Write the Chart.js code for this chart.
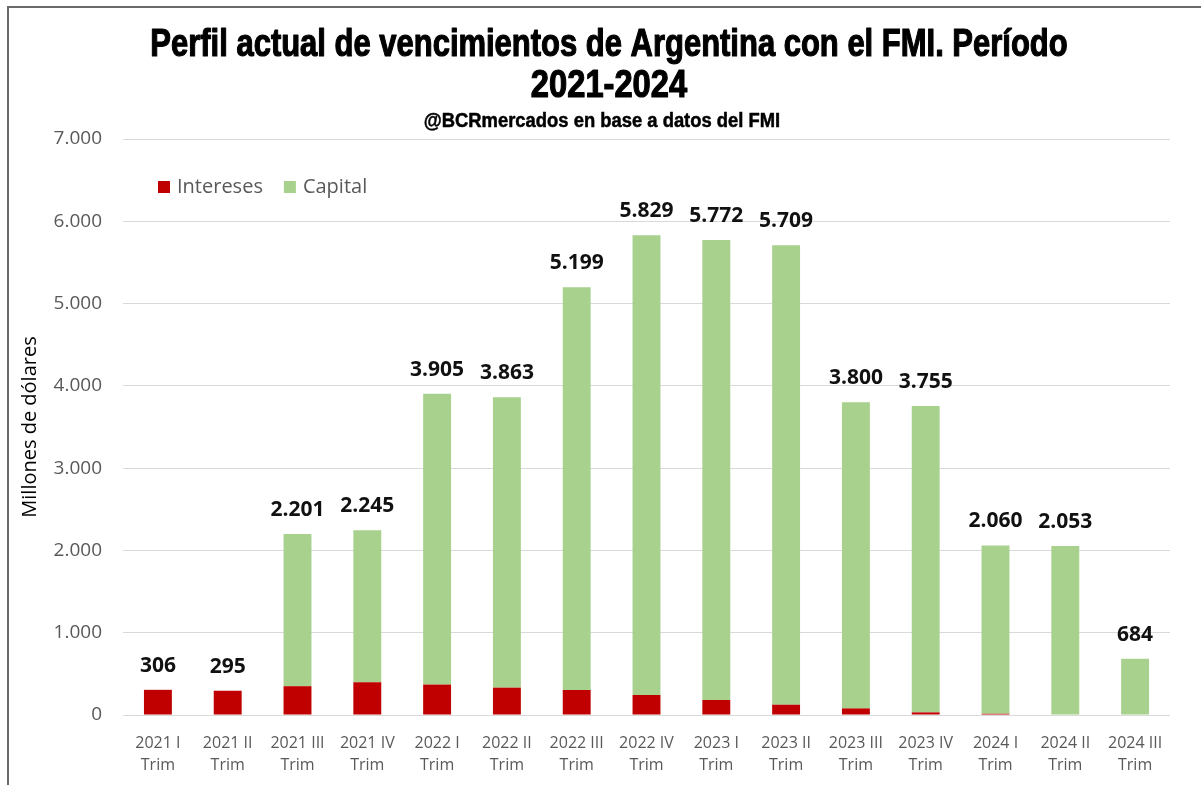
<!DOCTYPE html>
<html>
<head>
<meta charset="utf-8">
<script src="https://cdn.jsdelivr.net/npm/chart.js@4.4.0/dist/chart.umd.min.js"></script>
<style>
  html, body { margin: 0; padding: 0; background: #ffffff; }
  #wrap { position: relative; width: 1201px; height: 785px; overflow: hidden; }
  #frame { position: absolute; left: 7px; top: 6px; width: 1300px; height: 900px;
           border-left: 2px solid #6a6a6a; border-top: 2px solid #6a6a6a; }
  canvas { position: absolute; left: 0; top: 0; display: block; }
</style>
</head>
<body>
<div id="wrap">
  <div id="frame"></div>
  <canvas id="c" width="1201" height="785"></canvas>
</div>
<script>
// ---- data ----
const periods = ['2021 I', '2021 II', '2021 III', '2021 IV', '2022 I', '2022 II', '2022 III', '2022 IV',
                 '2023 I', '2023 II', '2023 III', '2023 IV', '2024 I', '2024 II', '2024 III'];
const periodSuffix = 'Trim';
const intereses = [306, 295, 350, 397, 370, 332, 304, 243, 182, 125, 80, 32, 15, 0, 0];
const capital   = [0, 0, 1851, 1848, 3535, 3531, 4895, 5586, 5590, 5584, 3720, 3723, 2045, 2053, 684];
const yTicks = [0, 1000, 2000, 3000, 4000, 5000, 6000, 7000];

const titleLines = ['Perfil actual de vencimientos de Argentina con el FMI. Período', '2021-2024'];
const subtitleText = '@BCRmercados en base a datos del FMI';
const yAxisTitle = 'Millones de dólares';

const fmt = v => String(Math.round(v)).replace(/\B(?=(\d{3})+(?!\d))/g, '.');
const labels = periods.map(p => [p, periodSuffix]);

function condensedText(ctx, text, cx, cy, font, sx, stroke) {
  ctx.save();
  ctx.font = font;
  ctx.fillStyle = '#000000';
  ctx.strokeStyle = '#000000';
  ctx.lineJoin = 'round';
  ctx.textAlign = 'center';
  ctx.textBaseline = 'middle';
  ctx.translate(cx, cy);
  ctx.scale(sx, 1);
  ctx.fillText(text, 0, 0);
  if (stroke) { ctx.lineWidth = stroke; ctx.strokeText(text, 0, 0); }
  ctx.restore();
}

const titlePlugin = {
  id: 'condTitle',
  afterDraw(chart) {
    const ctx = chart.ctx;
    const cx = 609;
    const tFont = 'bold 38px "Liberation Sans", Arial, sans-serif';
    condensedText(ctx, titleLines[0], cx, 46, tFont, 0.815, 1.2);
    condensedText(ctx, titleLines[1], cx, 87, tFont, 0.86, 1.2);
    condensedText(ctx, subtitleText, 602, 121, 'bold 20px "Liberation Sans", Arial, sans-serif', 0.92, 0.5);
  }
};

const totalsPlugin = {
  id: 'totals',
  afterDatasetsDraw(chart) {
    const ctx = chart.ctx;
    const xs = chart.scales.x, ys = chart.scales.y;
    ctx.save();
    ctx.font = 'bold 21px "Open Sans", "Liberation Sans", sans-serif';
    ctx.fillStyle = '#111111';
    ctx.textAlign = 'center';
    ctx.textBaseline = 'middle';
    periods.forEach((p, i) => {
      const tot = intereses[i] + capital[i];
      ctx.fillText(fmt(tot), xs.getPixelForValue(i), ys.getPixelForValue(tot) - 24);
    });
    ctx.restore();
  }
};

const legendPlugin = {
  id: 'inLegend',
  afterDraw(chart) {
    const ctx = chart.ctx;
    const ca = chart.chartArea;
    ctx.save();
    ctx.font = '20px "Open Sans", sans-serif';
    ctx.textBaseline = 'middle';
    ctx.textAlign = 'left';
    let x = ca.left + 35;
    const y = ca.top + 48;
    chart.data.datasets.forEach(ds => {
      ctx.fillStyle = ds.backgroundColor;
      ctx.fillRect(x, y - 6, 12, 12);
      ctx.fillStyle = '#595959';
      ctx.fillText(ds.label, x + 19, y);
      x += 19 + ctx.measureText(ds.label).width + 21;
    });
    ctx.restore();
  }
};

new Chart(document.getElementById('c'), {
  type: 'bar',
  data: {
    labels: labels,
    datasets: [
      { label: 'Intereses', data: intereses, backgroundColor: '#c00000' },
      { label: 'Capital', data: capital, backgroundColor: '#a9d18e' }
    ]
  },
  options: {
    responsive: false,
    animation: false,
    devicePixelRatio: 1,
    layout: { padding: { left: 10, right: 31, top: 139, bottom: 0 } },
    datasets: { bar: { barPercentage: 0.4, categoryPercentage: 1.0 } },
    plugins: {
      legend: { display: false },
      tooltip: { enabled: false },
      title: { display: false },
      subtitle: { display: false }
    },
    scales: {
      x: {
        stacked: true,
        grid: { display: false, drawTicks: false },
        border: { display: false },
        afterFit(scale) { scale.height = 70; },
        ticks: {
          color: '#595959',
          font: { family: '"Open Sans", sans-serif', size: 16, lineHeight: 1.35 },
          padding: 18,
          maxRotation: 0,
          autoSkip: false
        }
      },
      y: {
        stacked: true,
        min: 0,
        max: 7000,
        afterBuildTicks(scale) { scale.ticks = yTicks.map(v => ({ value: v })); },
        afterFit(scale) { scale.width = 113; },
        grid: { color: '#d9d9d9', lineWidth: 1, drawTicks: false },
        border: { display: false },
        ticks: {
          color: '#595959',
          font: { family: '"Open Sans", sans-serif', size: 19 },
          padding: 21,
          callback: v => fmt(v)
        },
        title: {
          display: true,
          text: yAxisTitle,
          color: '#000000',
          font: { family: '"Open Sans", sans-serif', size: 20, lineHeight: 1.2 },
          padding: { top: 8, bottom: 0 }
        }
      }
    }
  },
  plugins: [titlePlugin, totalsPlugin, legendPlugin]
});
</script>
</body>
</html>
